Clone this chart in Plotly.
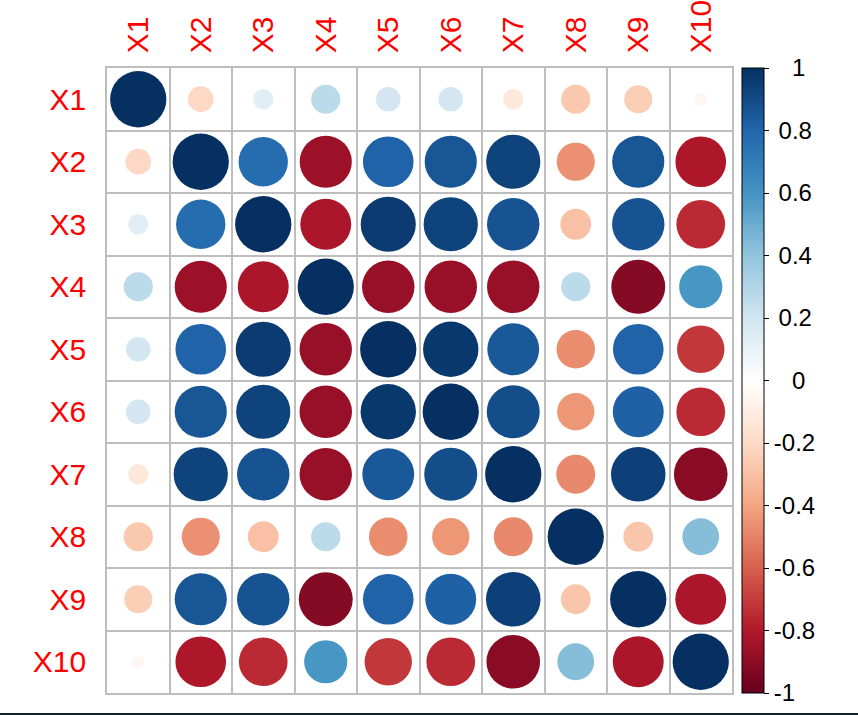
import numpy as np
import plotly.graph_objects as go

labels = ["X1", "X2", "X3", "X4", "X5", "X6", "X7", "X8", "X9", "X10"]

# Correlation matrix rows
r_X1  = [ 1.00, -0.21,  0.13,  0.27,  0.19,  0.19, -0.13, -0.27, -0.25, -0.05]
r_X2  = [-0.21,  1.00,  0.77, -0.86,  0.81,  0.86,  0.93, -0.46,  0.86, -0.81]
r_X3  = [ 0.13,  0.77,  1.00, -0.82,  0.96,  0.93,  0.87, -0.30,  0.87, -0.75]
r_X4  = [ 0.27, -0.86, -0.82,  1.00, -0.87, -0.87, -0.87,  0.27, -0.92,  0.59]
r_X5  = [ 0.19,  0.81,  0.96, -0.87,  1.00,  0.97,  0.85, -0.47,  0.81, -0.71]
r_X6  = [ 0.19,  0.86,  0.93, -0.87,  0.97,  1.00,  0.89, -0.44,  0.82, -0.75]
r_X7  = [-0.13,  0.93,  0.87, -0.87,  0.85,  0.89,  1.00, -0.48,  0.94, -0.91]
r_X8  = [-0.27, -0.46, -0.30,  0.27, -0.47, -0.44, -0.48,  1.00, -0.28,  0.43]
r_X9  = [-0.25,  0.86,  0.87, -0.92,  0.81,  0.82,  0.94, -0.28,  1.00, -0.82]
r_X10 = [-0.05, -0.81, -0.75,  0.59, -0.71, -0.75, -0.91,  0.43, -0.82,  1.00]

colorbar_ticks = [-1, -0.8, -0.6, -0.4, -0.2, 0, 0.2, 0.4, 0.6, 0.8, 1]

corr = np.array([r_X1, r_X2, r_X3, r_X4, r_X5, r_X6, r_X7, r_X8, r_X9, r_X10])

rdbu = ["#67001F", "#B2182B", "#D6604D", "#F4A582", "#FDDBC7", "#FFFFFF",
        "#D1E5F0", "#92C5DE", "#4393C3", "#2166AC", "#053061"]
colorscale = [[i / 10, c] for i, c in enumerate(rdbu)]

W, H = 858, 715
L, R, T, B = 107, 126, 68, 22
n = len(labels)
cell_px = (W - L - R) / n

xs, ys, vals = [], [], []
for i in range(n):
    for j in range(n):
        xs.append(j + 1)
        ys.append(i + 1)
        vals.append(corr[i, j])
vals = np.array(vals)
sizes = 0.9 * np.sqrt(np.abs(vals)) * cell_px

def fmt(v):
    s = ("%g" % v)
    if v > 0:
        s = "\u2009" + s if len(s) > 1 else "\u2007\u2009" + s
    elif v == 0:
        s = "\u2007\u2009" + s
    return s

fig = go.Figure(go.Scatter(
    x=xs, y=ys, mode="markers",
    marker=dict(
        size=sizes, color=vals, colorscale=colorscale, cmin=-1, cmax=1,
        line=dict(width=0), opacity=1,
        showscale=True,
        colorbar=dict(
            x=(742 - L) / (W - L - R), xanchor="left", xpad=0,
            y=0.5, yanchor="middle", len=1, lenmode="fraction", ypad=0,
            thickness=22, outlinewidth=1, outlinecolor="black",
            ticks="outside", ticklen=5, tickcolor="black", tickwidth=1,
            tickvals=colorbar_ticks, ticktext=[fmt(v) for v in colorbar_ticks],
            tickfont=dict(family="Liberation Sans", size=24, color="black"),
        ),
    ),
    hoverinfo="skip",
))

grid_vals = [k + 0.5 for k in range(n + 1)]
axis_common = dict(
    showgrid=False, zeroline=False, automargin=False,
    showline=True, mirror=True, linecolor="#BEBEBE", linewidth=1.5,
    ticks="", tickvals=list(range(1, n + 1)), ticktext=labels,
    tickfont=dict(family="Liberation Sans", size=30, color="#FF0000"),
    minor=dict(tickmode="array", tickvals=grid_vals, showgrid=True,
               gridcolor="#BEBEBE", gridwidth=1.5, ticks=""),
    fixedrange=True,
)

fig.update_layout(
    width=W, height=H,
    margin=dict(l=L, r=R, t=T, b=B, autoexpand=False),
    paper_bgcolor="white", plot_bgcolor="white",
    showlegend=False,
    xaxis=dict(range=[0.5, n + 0.5], side="top", tickangle=-90,
               ticklabelstandoff=7, **axis_common),
    yaxis=dict(range=[n + 0.5, 0.5], ticklabelstandoff=13, **axis_common),
    shapes=[dict(type="line", xref="paper", yref="paper",
                 x0=-L / (W - L - R), x1=(W - L) / (W - L - R),
                 y0=-21 / (H - T - B), y1=-21 / (H - T - B),
                 line=dict(color="#13232E", width=2))],
)

fig.write_html("out.html")
